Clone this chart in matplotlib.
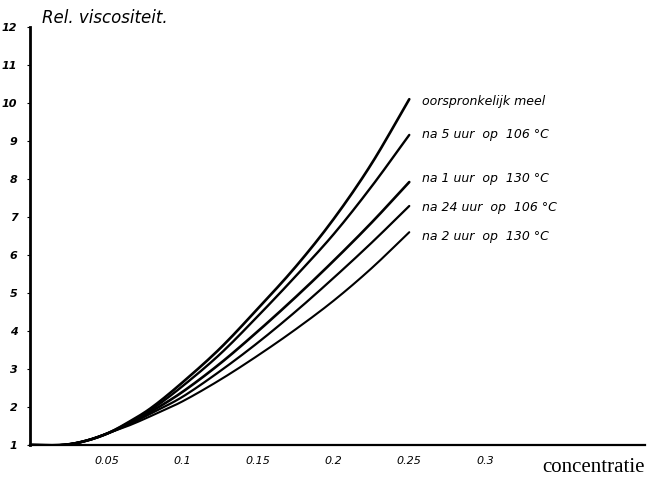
import matplotlib.pyplot as plt
import numpy as np

# concentration values and relative viscosity
conc = [0, 0.02, 0.035, 0.05, 0.065, 0.08, 0.1, 0.125, 0.15, 0.175, 0.2, 0.225, 0.25]
oorspronkelijk = [1.0, 1.0, 1.1, 1.3, 1.62, 2.0, 2.65, 3.55, 4.6, 5.7, 6.95, 8.4, 10.1]
uur5_106 = [1.0, 1.0, 1.1, 1.3, 1.6, 1.95, 2.55, 3.4, 4.4, 5.45, 6.55, 7.8, 9.16]
uur1_130 = [1.0, 1.0, 1.1, 1.3, 1.58, 1.9, 2.4, 3.15, 4.0, 4.9, 5.85, 6.85, 7.92]
uur24_106 = [1.0, 1.0, 1.1, 1.3, 1.55, 1.85, 2.27, 2.95, 3.7, 4.52, 5.4, 6.32, 7.29]
uur2_130 = [1.0, 1.0, 1.1, 1.3, 1.52, 1.78, 2.15, 2.72, 3.36, 4.05, 4.8, 5.65, 6.6]

series = [oorspronkelijk, uur5_106, uur1_130, uur24_106, uur2_130]
labels = ['oorspronkelijk meel', 'na 5 uur  op  106 °C', 'na 1 uur  op  130 °C',
          'na 24 uur  op  106 °C', 'na 2 uur  op  130 °C']
label_dy = [-2, 0, 4, -2, -4]
widths = [1.9, 1.7, 1.9, 1.6, 1.5]

xticks = [0.05, 0.1, 0.15, 0.2, 0.25, 0.3]
xticklabels = ['0.05', '0.1', '0.15', '0.2', '0.25', '0.3']
yticks = list(range(1, 13))


def smooth(xs, ys, n=12):
    # catmull-rom through the read points, only so the drawn line has no kinks
    p = np.column_stack([xs, ys]).astype(float)
    p = np.vstack([2 * p[0] - p[1], p, 2 * p[-1] - p[-2]])
    t = np.linspace(0, 1, n, endpoint=False)[:, None]
    out = []
    for i in range(1, len(p) - 2):
        p0, p1, p2, p3 = p[i - 1], p[i], p[i + 1], p[i + 2]
        out.append(0.5 * (2 * p1 + (p2 - p0) * t + (2 * p0 - 5 * p1 + 4 * p2 - p3) * t ** 2
                          + (3 * p1 - p0 - 3 * p2 + p3) * t ** 3))
    out.append(p[-2][None, :])
    out = np.vstack(out)
    return out[:, 0], out[:, 1]


fig = plt.figure(figsize=(6.49, 4.79), dpi=100)
ax = fig.add_axes([30 / 649, 34 / 479, 615 / 649, 418 / 479])

for ys, lab, dy, w in zip(series, labels, label_dy, widths):
    sx, sy = smooth(conc, ys)
    ax.plot(sx, sy, color='black', lw=w, solid_capstyle='round')
    ax.annotate(lab, (conc[-1], ys[-1]), xytext=(13, dy), textcoords='offset pixels',
                ha='left', va='center', fontsize=9, style='italic', color='black')

ax.set_xlim(-0.001, 0.406)
ax.set_ylim(1, 12)
for s in ['top', 'right']:
    ax.spines[s].set_visible(False)
ax.spines['left'].set_linewidth(2.0)
ax.spines['bottom'].set_linewidth(1.6)

ax.set_xticks(xticks)
ax.set_xticklabels(xticklabels, style='italic', fontsize=8)
ax.set_yticks(yticks)
ax.set_yticklabels([str(v) for v in yticks], style='italic', fontweight='bold', fontsize=8)
ax.tick_params(axis='x', length=0, pad=8)
ax.tick_params(axis='y', length=2, width=0.8, pad=7)

fig.text(42 / 649, 1 - 18 / 479, 'Rel. viscositeit.', fontsize=12, style='italic',
         ha='left', va='center')
fig.text(645 / 649, 1 - 467 / 479, 'concentratie', fontsize=15,
         family='Liberation Serif', ha='right', va='center')

fig.savefig('out.png', dpi=100)
plt.close()
